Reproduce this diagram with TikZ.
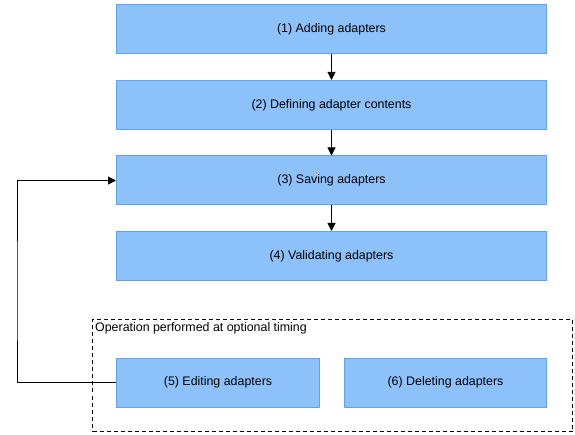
\documentclass[tikz,border=0pt]{standalone}
\usepackage{fontspec}
\setmainfont{Liberation Sans}
\usetikzlibrary{arrows.meta}
\definecolor{boxfill}{HTML}{8CC1FA}
\definecolor{boxline}{HTML}{5FA2EE}
\begin{document}
\begin{tikzpicture}[x=1pt,y=-1pt,
  txt/.style={font=\fontsize{12.4}{14}\selectfont},
  stepbox/.style={draw=boxline,fill=boxfill,line width=1pt,minimum height=49pt,inner sep=0pt,txt,anchor=north west},
  conn/.style={line width=1pt,-{Triangle[length=8pt,width=8pt]}}]
\useasboundingbox (0,0) rectangle (575,435);
\node[stepbox,minimum width=430pt] (s1) at (116,4) {(1) Adding adapters};
\node[stepbox,minimum width=430pt] (s2) at (116,80) {(2) Defining adapter contents};
\node[stepbox,minimum width=430pt] (s3) at (116,155.5) {(3) Saving adapters};
\node[stepbox,minimum width=430pt] (s4) at (116,231) {(4) Validating adapters};
\node[draw,dashed,dash pattern=on 4pt off 3pt,line width=1pt,minimum width=480pt,minimum height=112pt,inner sep=0pt,anchor=north west] (grp) at (92,319) {};
\node[txt,anchor=north west,inner sep=0pt] (grplabel) at (95,322) {Operation performed at optional timing};
\node[stepbox,minimum width=203pt] (s5) at (116,357.5) {(5) Editing adapters};
\node[stepbox,minimum width=202pt] (s6) at (344,357.5) {(6) Deleting adapters};
\coordinate (c1) at (17,300);
\draw[conn] (s1) -- (s2);
\draw[conn] (s2) -- (s3);
\draw[conn] (s3) -- (s4);
\draw[conn] (s5.west) -| (c1) |- (s3.west);
\end{tikzpicture}
\end{document}
